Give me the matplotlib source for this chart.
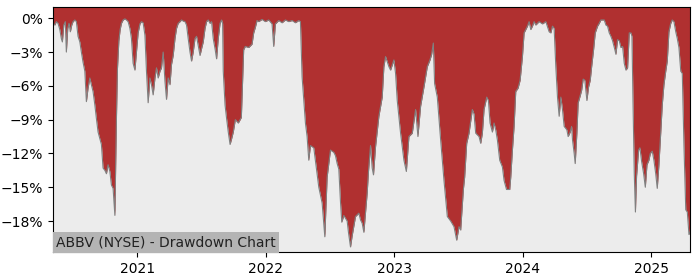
import matplotlib
matplotlib.use("Agg")
import matplotlib.pyplot as plt
from matplotlib.ticker import FuncFormatter

# drawdown of ABBV, dates as decimal years, values in %
years = [
    2020.342, 2020.356, 2020.368, 2020.381, 2020.395, 2020.407, 2020.415, 2020.426, 2020.438, 2020.446,
    2020.457, 2020.467, 2020.477, 2020.488, 2020.498, 2020.512, 2020.524, 2020.537, 2020.551, 2020.563,
    2020.576, 2020.590, 2020.602, 2020.615, 2020.629, 2020.641, 2020.654, 2020.668, 2020.680, 2020.693,
    2020.707, 2020.719, 2020.732, 2020.746, 2020.758, 2020.771, 2020.785, 2020.797, 2020.810, 2020.824,
    2020.836, 2020.844, 2020.855, 2020.865, 2020.875, 2020.888, 2020.902, 2020.914, 2020.927, 2020.941,
    2020.953, 2020.966, 2020.980, 2020.992, 2021.005, 2021.019, 2021.031, 2021.044, 2021.058, 2021.070,
    2021.083, 2021.097, 2021.109, 2021.122, 2021.136, 2021.148, 2021.161, 2021.175, 2021.187, 2021.200,
    2021.214, 2021.226, 2021.239, 2021.253, 2021.265, 2021.278, 2021.292, 2021.304, 2021.317, 2021.331,
    2021.343, 2021.356, 2021.370, 2021.382, 2021.395, 2021.409, 2021.421, 2021.434, 2021.448, 2021.460,
    2021.473, 2021.487, 2021.499, 2021.512, 2021.526, 2021.538, 2021.551, 2021.565, 2021.577, 2021.590,
    2021.604, 2021.616, 2021.629, 2021.643, 2021.655, 2021.663, 2021.668, 2021.682, 2021.694, 2021.707,
    2021.721, 2021.733, 2021.746, 2021.762, 2021.785, 2021.809, 2021.827, 2021.840, 2021.866, 2021.892,
    2021.905, 2021.918, 2021.931, 2021.944, 2021.970, 2021.996, 2022.022, 2022.048, 2022.061, 2022.074,
    2022.100, 2022.126, 2022.152, 2022.178, 2022.204, 2022.230, 2022.256, 2022.269, 2022.282, 2022.295,
    2022.308, 2022.321, 2022.334, 2022.347, 2022.373, 2022.399, 2022.412, 2022.438, 2022.459, 2022.477,
    2022.503, 2022.529, 2022.542, 2022.555, 2022.568, 2022.581, 2022.591, 2022.607, 2022.633, 2022.643,
    2022.659, 2022.672, 2022.698, 2022.724, 2022.737, 2022.750, 2022.763, 2022.789, 2022.799, 2022.815,
    2022.828, 2022.838, 2022.854, 2022.880, 2022.906, 2022.919, 2022.932, 2022.958, 2022.971, 2022.997,
    2023.010, 2023.023, 2023.049, 2023.075, 2023.094, 2023.114, 2023.140, 2023.166, 2023.184, 2023.205,
    2023.231, 2023.257, 2023.278, 2023.291, 2023.304, 2023.314, 2023.335, 2023.361, 2023.387, 2023.413,
    2023.439, 2023.465, 2023.486, 2023.504, 2023.517, 2023.538, 2023.548, 2023.564, 2023.582, 2023.608,
    2023.621, 2023.634, 2023.660, 2023.673, 2023.686, 2023.699, 2023.720, 2023.733, 2023.746, 2023.764,
    2023.777, 2023.790, 2023.803, 2023.821, 2023.842, 2023.855, 2023.874, 2023.899, 2023.907, 2023.920,
    2023.933, 2023.946, 2023.964, 2023.980, 2023.998, 2024.011, 2024.024, 2024.037, 2024.050, 2024.063,
    2024.076, 2024.089, 2024.102, 2024.128, 2024.154, 2024.180, 2024.206, 2024.219, 2024.232, 2024.245,
    2024.258, 2024.271, 2024.284, 2024.297, 2024.310, 2024.323, 2024.344, 2024.354, 2024.370, 2024.381,
    2024.388, 2024.401, 2024.409, 2024.422, 2024.432, 2024.445, 2024.459, 2024.471, 2024.484, 2024.500,
    2024.513, 2024.526, 2024.537, 2024.552, 2024.565, 2024.583, 2024.596, 2024.609, 2024.622, 2024.635,
    2024.648, 2024.661, 2024.674, 2024.687, 2024.700, 2024.718, 2024.726, 2024.739, 2024.752, 2024.765,
    2024.778, 2024.791, 2024.804, 2024.817, 2024.830, 2024.843, 2024.851, 2024.859, 2024.869, 2024.878,
    2024.887, 2024.903, 2024.913, 2024.926, 2024.942, 2024.955, 2024.968, 2024.983, 2024.994, 2025.009,
    2025.022, 2025.036, 2025.048, 2025.061, 2025.075, 2025.087, 2025.100, 2025.114, 2025.126, 2025.139,
    2025.153, 2025.165, 2025.178, 2025.192, 2025.204, 2025.217, 2025.231, 2025.243, 2025.256, 2025.270,
    2025.282, 2025.295, 2025.303,
]
drawdown = [
    -0.45, -0.6, -0.3, -0.45, -1.0, -1.8, -2.1, -0.6, -0.3, -3.0,
    -0.9, -0.45, -1.2, -0.6, -0.3, -0.15, -0.3, -1.6, -2.1, -3.0,
    -3.9, -4.7, -7.4, -6.2, -5.3, -5.9, -6.5, -7.7, -8.9, -10.1,
    -10.7, -11.2, -13.3, -13.5, -13.8, -13.0, -13.6, -14.8, -15.1, -17.5,
    -9.0, -4.5, -2.0, -1.0, -0.45, -0.15, -0.05, -0.15, -0.3, -0.9,
    -1.8, -4.0, -4.6, -3.0, -1.3, -0.5, -0.3, -0.4, -1.5, -4.7,
    -7.5, -5.3, -5.9, -6.8, -5.3, -4.4, -5.3, -4.7, -4.4, -3.0,
    -5.6, -7.2, -5.3, -5.9, -4.1, -3.3, -1.8, -0.9, -0.45, -0.3,
    -0.15, -0.25, -0.3, -0.6, -1.8, -3.0, -3.8, -3.0, -1.8, -1.6,
    -2.4, -3.3, -2.7, -2.1, -0.9, -0.3, -0.15, -0.45, -0.3, -1.8,
    -2.7, -3.6, -1.8, -0.45, -0.15, -0.45, -4.7, -7.7, -8.9, -10.1,
    -11.2, -10.7, -10.1, -9.0, -9.3, -8.8, -2.8, -2.5, -2.6, -2.3,
    -1.3, -0.8, -0.2, -0.3, -0.1, -0.3, -0.15, -0.5, -2.5, -0.5,
    -0.2, -0.4, -0.15, -0.3, -0.2, -0.4, -0.2, -0.3, -5.2, -7.2,
    -9.3, -10.5, -12.6, -11.3, -11.5, -13.8, -15.0, -16.4, -19.4, -14.1,
    -11.7, -11.9, -12.2, -12.9, -13.4, -16.3, -18.1, -17.5, -18.0, -19.0,
    -20.3, -19.3, -17.6, -17.3, -17.9, -18.2, -19.0, -15.5, -13.6, -11.3,
    -13.3, -13.9, -11.4, -8.7, -7.0, -4.3, -3.4, -4.3, -4.6, -3.7,
    -4.9, -7.3, -10.2, -12.6, -13.6, -10.5, -10.2, -8.1, -10.5, -7.8,
    -6.1, -4.3, -3.7, -3.2, -2.2, -5.8, -7.0, -10.8, -14.4, -17.6,
    -18.0, -18.5, -19.7, -18.5, -18.8, -15.2, -14.1, -11.1, -10.2, -8.1,
    -8.5, -10.2, -10.5, -11.1, -10.2, -8.1, -7.0, -7.3, -9.3, -10.1,
    -9.3, -9.9, -10.8, -12.6, -13.2, -14.4, -15.2, -15.2, -14.1, -11.7,
    -9.6, -6.5, -6.2, -5.5, -3.4, -1.3, -1.0, -0.7, -0.3, -1.0,
    -0.7, -0.3, -0.6, -0.3, -0.5, -0.3, -1.2, -1.3, -0.7, -0.9,
    -4.3, -7.0, -8.7, -7.0, -8.1, -9.6, -9.9, -10.5, -10.1, -9.6,
    -10.8, -12.0, -12.9, -10.2, -7.5, -7.0, -6.4, -5.4, -5.5, -7.3,
    -6.1, -5.5, -4.3, -2.8, -1.3, -0.7, -0.45, -0.15, -0.15, -0.15,
    -0.6, -0.7, -1.3, -1.6, -2.0, -2.8, -3.2, -1.9, -2.0, -2.6,
    -2.5, -4.0, -4.6, -4.4, -1.3, -1.3, -1.6, -7.3, -13.8, -17.2,
    -14.0, -11.7, -11.5, -12.7, -13.8, -15.0, -13.0, -12.6, -12.0, -11.8,
    -12.6, -13.8, -15.1, -13.0, -10.2, -7.7, -5.9, -4.7, -3.8, -1.2,
    -0.45, -0.15, -0.3, -1.2, -1.8, -2.6, -4.7, -4.9, -11.3, -17.0,
    -17.2, -19.2, -19.0,
]
year_ticks = [2021, 2022, 2023, 2024, 2025]
pct_ticks = [0, -3, -6, -9, -12, -15, -18]

fig = plt.figure(figsize=(7, 2.8), dpi=100)
ax = fig.add_axes([0.0757, 0.1, 0.91, 0.875])
ax.set_facecolor('#ececec')

# red area runs from the drawdown line up to the top of the plot
top = 1.0
ax.fill_between(years, drawdown, top, color='#b03030', linewidth=0)
ax.plot(years, drawdown, color='grey', linewidth=0.8)

ax.set_xlim(years[0], years[-1])
ax.set_ylim(-20.75, top)
ax.set_xticks(year_ticks)
ax.set_xticklabels([str(y) for y in year_ticks])
ax.set_yticks(pct_ticks)
ax.yaxis.set_major_formatter(FuncFormatter(lambda v, p: f"{v:.0f}%".replace('-', '\u2212')))

ax.text(0.005, 0.012, 'ABBV (NYSE) - Drawdown Chart', transform=ax.transAxes,
        fontsize=10, color='#222222', va='bottom', ha='left',
        bbox=dict(facecolor='#b4b4b4', edgecolor='none', pad=2.5))

fig.savefig('out.png', dpi=100)
